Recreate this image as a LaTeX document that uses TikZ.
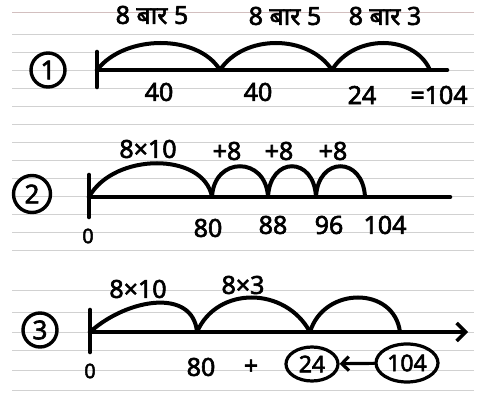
\documentclass[tikz,border=0pt]{standalone}
\usepackage{fontspec}
\newfontfamily\handfont[Script=Devanagari, FakeBold=2.4]{Noto Sans}
\usetikzlibrary{arrows.meta, shapes.geometric}

\tikzset{
  ruling/.style={line width=0.8pt, black!18},
  ink/.style={line width=4.6pt, line cap=round, line join=round},
  hop/.style={line width=4pt, line cap=round},
  lbl/.style={inner sep=0pt, font=\handfont\fontsize{25}{27}\selectfont},
  zero/.style={inner sep=0pt, font=\handfont\fontsize{20}{22}\selectfont},
  rownum/.style={circle, draw, line width=3.4pt, inner sep=0pt, minimum size=34pt,
    font=\handfont\fontsize{26}{28}\selectfont},
  ring/.style={ellipse, draw, line width=3.2pt, inner sep=0pt,
    font=\handfont\fontsize{23}{25}\selectfont},
  barb/.tip={Straight Barb[length=9pt, width=18pt, line width=3.4pt]}
}

\begin{document}
\begin{tikzpicture}[x=1pt, y=-1pt]
    \useasboundingbox (0,0) rectangle (485,403);
    \fill[white] (0,0) rectangle (485,403);

    % ruled paper
    \draw[ruling, red!30!black!25] (12,12) -- (474,12);
    \foreach \y in {34,52,70,88,106,124,142,160,178,196,214,232,250,290,312,332,350,370,390}
        \draw[ruling] (12,\y) -- (474,\y);

    % Row 1: 8 bar 5 + 8 bar 5 + 8 bar 3
    \node[rownum] (c1) at (48,70) {1};
    \draw[ink] (97,52) -- (97,87);
    \coordinate (r1t0) at (97,70);
    \coordinate (r1t1) at (220,70);
    \coordinate (r1t2) at (332,70);
    \coordinate (r1t3) at (430,70);
    \coordinate (r1end) at (447,70);
    \draw[ink] (r1t0) -- (r1end);
    \draw[hop] (r1t0) .. controls +(28,-36) and +(-22,-36) .. (r1t1);
    \draw[hop] (r1t1) .. controls +(24,-36) and +(-24,-36) .. (r1t2);
    \draw[hop] (r1t2) .. controls +(22,-36) and +(-16,-36) .. (r1t3);
    \node[lbl] (a1) at (152,15) {8 बार 5};
    \node[lbl] (a2) at (285,16) {8 बार 5};
    \node[lbl] (a3) at (385,16) {8 बार 3};
    \node[lbl] (b1) at (159,92) {40};
    \node[lbl] (b2) at (258,92) {40};
    \node[lbl] (b3) at (362,95) {24};
    \node[lbl] (b4) at (439,95) {=104};

    % Row 2: 8x10 and three jumps of 8
    \node[rownum, minimum size=37pt] (c2) at (32,194) {2};
    \draw[ink] (89,175) -- (89,217);
    \coordinate (r2t0) at (89,197);
    \coordinate (r2t1) at (212,197);
    \coordinate (r2t2) at (268,197);
    \coordinate (r2t3) at (316,197);
    \coordinate (r2t4) at (365,197);
    \coordinate (r2end) at (450,197);
    \draw[ink] (r2t0) -- (r2end);
    \draw[hop] (r2t0) .. controls +(25,-45) and +(-8,-45) .. (r2t1);
    \draw[hop] (r2t1) .. controls +(2,-41) and +(-2,-41) .. (r2t2);
    \draw[hop] (r2t2) .. controls +(2,-41) and +(-2,-41) .. (r2t3);
    \draw[hop] (r2t3) .. controls +(2,-41) and +(-2,-41) .. (r2t4);
    \node[lbl] (d1) at (148,149) {8×10};
    \node[lbl] (d2) at (227,151) {+8};
    \node[lbl] (d3) at (279,151) {+8};
    \node[lbl] (d4) at (333,151) {+8};
    \node[zero] (z2) at (88,236) {0};
    \node[lbl] (f1) at (208,228) {80};
    \node[lbl] (f2) at (273,225) {88};
    \node[lbl] (f3) at (329,225) {96};
    \node[lbl] (f4) at (385,225) {104};

    % Row 3: 8x10 and 8x3 on an open line
    \node[rownum] (c3) at (40,330) {3};
    \draw[ink] (90,310) -- (90,352);
    \coordinate (r3t0) at (90,332);
    \coordinate (r3t1) at (197,332);
    \coordinate (r3t2) at (310,332);
    \coordinate (r3t3) at (400,332);
    \coordinate (r3end) at (468,332);
    \draw[ink, -barb] (r3t0) -- (r3end);
    \draw[hop] (r3t0) .. controls +(38,-34) and +(-4,-44) .. (r3t1);
    \draw[hop] (r3t1) .. controls +(20,-46) and +(-25,-46) .. (r3t2);
    \draw[hop] (r3t2) .. controls +(14,-46) and +(-6,-46) .. (r3t3);
    \node[lbl] (g1) at (138,289) {8×10};
    \node[lbl] (g2) at (243,285) {8×3};
    \node[zero] (z3) at (90,371) {0};
    \node[lbl] (h1) at (201,367) {80};
    \node[lbl] (h2) at (251,367) {+};
    \node[ring, minimum width=52pt, minimum height=34pt] (e24) at (312,364) {24};
    \node[ring, minimum width=62pt, minimum height=38pt] (e104) at (407,363) {104};
    \draw[ink, line width=3.2pt, -{Straight Barb[length=7pt, width=14pt]}] (e104) -- (e24);
\end{tikzpicture}
\end{document}
